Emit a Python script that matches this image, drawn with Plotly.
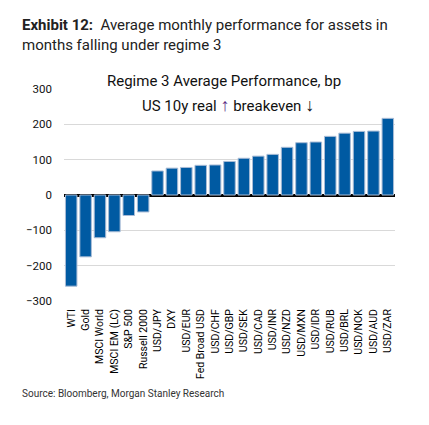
import plotly.graph_objects as go

categories = ["WTI", "Gold", "MSCI World", "MSCI EM (LC)", "S&P 500", "Russell 2000",
              "USD/JPY", "DXY", "USD/EUR", "Fed Broad USD", "USD/CHF", "USD/GBP",
              "USD/SEK", "USD/CAD", "USD/INR", "USD/NZD", "USD/MXN", "USD/IDR",
              "USD/RUB", "USD/BRL", "USD/NOK", "USD/AUD", "USD/ZAR"]
values = [-258, -175, -121, -104, -58, -48,
          68, 76, 78, 84, 85, 95,
          104, 110, 115, 135, 148, 150,
          166, 175, 180, 181, 217]
y_ticks = [-300, -200, -100, 0, 100, 200, 300]

W, H = 421, 417
L, R, T, B = 56, 34, 81, 124
PW, PH = W - L - R, H - T - B

fig = go.Figure()
fig.add_trace(go.Bar(
    x=categories, y=values,
    marker=dict(color="#005AA2", line=dict(color="#A9BCD6", width=1)),
    showlegend=False,
))

font = "Roboto, sans-serif"

fig.update_layout(
    width=W, height=H,
    margin=dict(l=L, r=R, t=T, b=B, pad=0),
    paper_bgcolor="white", plot_bgcolor="white",
    bargap=0.2,
    font=dict(family=font, color="#222"),
    xaxis=dict(
        tickangle=-90, tickfont=dict(family=font, size=10.5, color="#000"),
        showgrid=False, showline=False, ticks="", zeroline=False,
        automargin=False, ticklabelstandoff=5,
    ),
    yaxis=dict(
        range=[-300, 300], tickvals=y_ticks,
        tickfont=dict(family=font, size=11.5, color="#111"),
        showgrid=True, gridcolor="#D9D9D9", gridwidth=1,
        zeroline=True, zerolinecolor="#000", zerolinewidth=2.5,
        showline=False, ticks="", ticklabelstandoff=11,
        automargin=False,
    ),
    annotations=[
        dict(text="<b>Exhibit 12:</b>  Average monthly performance for assets in<br>months falling under regime 3",
             xref="paper", yref="paper", x=-(L - 12) / PW, y=1 + (T - 6) / PH,
             xanchor="left", yanchor="top", align="left", showarrow=False,
             font=dict(family=font, size=15, color="#222")),
        dict(text="Regime 3 Average Performance, bp",
             xref="paper", yref="paper", x=0.483, y=1 + 8 / PH,
             xanchor="center", yanchor="middle", showarrow=False,
             font=dict(family=font, size=15, color="#111")),
        dict(text="US 10y real <span style='color:#5B2C83;font-size:18px'>↑</span> breakeven <span style='font-size:18px'>↓</span>",
             xref="paper", yref="paper", x=0.495, y=1 - 15 / PH,
             xanchor="center", yanchor="middle", showarrow=False,
             font=dict(family=font, size=15, color="#111")),
        dict(text="Source: Bloomberg, Morgan Stanley Research",
             xref="paper", yref="paper", x=-(L - 12) / PW, y=-(385 - (H - B)) / PH,
             xanchor="left", yanchor="middle", showarrow=False,
             font=dict(family=font, size=10, color="#333")),
    ],
)

fig.write_html("out.html")
